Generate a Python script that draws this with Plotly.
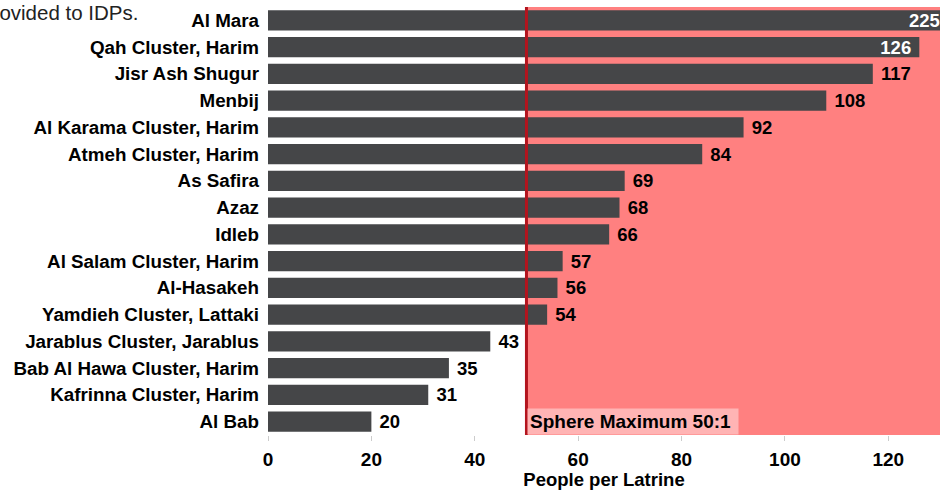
import plotly.graph_objects as go

locations = ["Al Mara", "Qah Cluster, Harim", "Jisr Ash Shugur", "Menbij",
             "Al Karama Cluster, Harim", "Atmeh Cluster, Harim", "As Safira", "Azaz",
             "Idleb", "Al Salam Cluster, Harim", "Al-Hasakeh", "Yamdieh Cluster, Lattaki",
             "Jarablus Cluster, Jarablus", "Bab Al Hawa Cluster, Harim",
             "Kafrinna Cluster, Harim", "Al Bab"]
people_per_latrine = [225, 126, 117, 108, 92, 84, 69, 68, 66, 57, 56, 54, 43, 35, 31, 20]
x_ticks = [0, 20, 40, 60, 80, 100, 120]
sphere_max = 50
x_max = 130

FONT = "Liberation Sans, Arial, sans-serif"
NB = "\u00a0"

inside = [v > 120 for v in people_per_latrine]
clipped = [v > x_max for v in people_per_latrine]
texts = []
for v, ins, cl in zip(people_per_latrine, inside, clipped):
    if cl:
        texts.append("")
    elif ins:
        texts.append(f"{v}{NB}")
    else:
        texts.append(f"{NB}{v}")
positions = ["inside" if i else "outside" for i in inside]
text_colors = ["white" if i else "black" for i in inside]

fig = go.Figure()
fig.add_trace(go.Bar(
    y=locations, x=people_per_latrine, orientation="h",
    marker=dict(color="#454648", line=dict(width=0)),
    text=texts, textposition=positions, insidetextanchor="end",
    textfont=dict(family=FONT, size=18.5, weight="bold", color=text_colors),
    cliponaxis=True, constraintext="none",
    hoverinfo="x+y",
))

# labels for bars that run past the axis end
for loc, v, cl in zip(locations, people_per_latrine, clipped):
    if cl:
        fig.add_annotation(text=f"{v}", xref="x", yref="y", x=x_max, y=loc,
                           xanchor="right", yanchor="middle", showarrow=False, xshift=2,
                           font=dict(family=FONT, size=18.5, weight="bold", color="white"))

fig.add_shape(type="rect", xref="x", yref="paper", x0=sphere_max, x1=x_max, y0=0, y1=1,
              fillcolor="#FF8080", line=dict(width=0), layer="below")
fig.add_shape(type="line", xref="x", yref="paper", x0=sphere_max, x1=sphere_max, y0=0, y1=1,
              line=dict(color="#B3141E", width=3), layer="above")

fig.add_annotation(text="Sphere Maximum 50:1" + NB, xref="x", yref="paper", x=sphere_max, y=0,
                   xanchor="left", yanchor="bottom", showarrow=False, xshift=1,
                   bgcolor="#FFB4B4", borderpad=2,
                   font=dict(family=FONT, size=19, weight="bold", color="black"))

fig.add_annotation(text="Number of latrines provided to IDPs.", xref="paper", yref="paper",
                   x=(140 - 268) / 672, y=1 - 6 / 428, xanchor="right", yanchor="middle",
                   showarrow=False, font=dict(family=FONT, size=20.5, color="#222"))

fig.update_layout(
    width=944, height=490,
    margin=dict(l=268, r=4, t=7, b=55),
    paper_bgcolor="white", plot_bgcolor="white",
    bargap=0.25, showlegend=False,
    font=dict(family=FONT, color="black"),
    xaxis=dict(range=[0, x_max], tickvals=x_ticks, showgrid=False, zeroline=False,
               ticks="outside", ticklen=5, tickcolor="#cccccc", tickwidth=1,
               automargin=False, ticklabelstandoff=2,
               tickfont=dict(family=FONT, size=19, weight="bold", color="black"),
               title=dict(text="People per Latrine", standoff=12,
                          font=dict(family=FONT, size=18.5, weight="bold", color="black")),
               showline=False),
    yaxis=dict(categoryorder="array", categoryarray=locations, autorange="reversed",
               showgrid=False, zeroline=False, ticks="", showline=False,
               automargin=False, ticklabelstandoff=8,
               tickfont=dict(family=FONT, size=18.8, weight="bold", color="black")),
)

fig.write_html("out.html")
